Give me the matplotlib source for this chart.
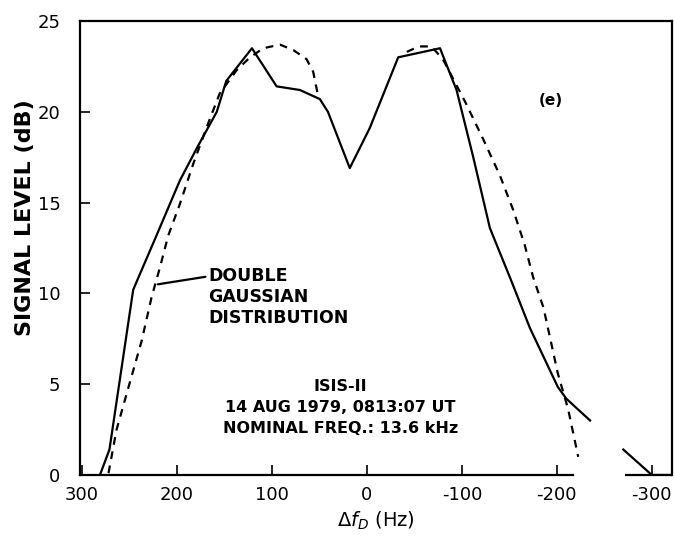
import numpy as np
import matplotlib
matplotlib.use('Agg')
from matplotlib import pyplot as plt

plt.rcParams['font.family'] = ['DejaVu Sans']
plt.rcParams['axes.unicode_minus'] = False

# measured spectrum (solid), gap where the trace is missing
meas_f = [281, 271, 246, 237, 223, 197, 179, 158, 148, 121, 95, 70.5, 49.5, 41, 18,
          -3, -33, -77, -94.4, -112, -129.5, -152, -171.6, -201, -210, -235, np.nan,
          -270, -300, -321]
meas_db = [0, 1.4, 10.2, 11.3, 13.0, 16.2, 18.0, 20.0, 21.7, 23.5, 21.4, 21.2, 20.7, 20.0, 16.9,
           19.1, 23.0, 23.5, 21.2, 17.5, 13.6, 10.7, 8.1, 4.85, 4.2, 3.0, np.nan,
           1.4, 0, 0]

# double gaussian fit (dashed), two visible pieces
fit_f1 = [272, 263.5, 249.5, 237, 226.6, 218, 209, 197, 183, 169, 155, 137, 123, 109,
          91.5, 77.5, 63.5, 56.5, 53, 51]
fit_db1 = [0.1, 2.5, 5.1, 7.4, 9.8, 11.4, 13.2, 14.9, 17.1, 19.1, 21.0, 22.3, 23.0, 23.5,
           23.7, 23.4, 22.9, 22.2, 21.3, 20.8]
fit_f2 = [-42, -55, -68, -80, -90, -103, -122.4, -140, -154, -166, -175, -186, -201,
          -212, -222.5]
fit_db2 = [23.3, 23.6, 23.6, 22.9, 21.9, 20.6, 18.5, 16.5, 14.6, 12.7, 10.9, 9.2, 5.6,
           3.6, 1.0]

xticks = [300, 200, 100, 0, -100, -200, -300]
yticks = [0, 5, 10, 15, 20, 25]

fig = plt.figure(figsize=(6.74, 5.37), dpi=100)
ax = fig.add_axes([0.1187, 0.1155, 0.878, 0.8454])

ax.plot(meas_f, meas_db, color='black', lw=1.6)
ax.plot(fit_f1, fit_db1, color='black', lw=1.6, linestyle=(0, (3.5, 3)))
ax.plot(fit_f2, fit_db2, color='black', lw=1.6, linestyle=(0, (3.5, 3)))

ax.set_xlim(302, -321)
ax.set_ylim(0, 25)
ax.set_xticks(xticks)
ax.set_yticks(yticks)
ax.tick_params(direction='in', length=7, width=1.2, labelsize=13)
ax.tick_params(axis='x', pad=8)
ax.tick_params(axis='y', pad=14)
for s in ax.spines.values():
    s.set_linewidth(1.6)

# scanned axis line has a break on the right
ax.spines['bottom'].set_bounds(302, -217)
ax.hlines(0, -272, -321, color='black', lw=1.6, clip_on=False)

fig.text(25 / 674, 1 - 218 / 537, 'SIGNAL LEVEL (dB)', fontsize=16, fontweight='bold',
         rotation=90, ha='center', va='center')
ax.set_xlabel(r'$\Delta f_D$ (Hz)', fontsize=14, labelpad=4)

ax.text(-194, 20.6, '(e)', fontsize=11, fontweight='bold', ha='center', va='center')
ax.annotate('DOUBLE\nGAUSSIAN\nDISTRIBUTION', xy=(220, 10.5), xytext=(167, 9.8),
            fontsize=12.5, fontweight='bold', ha='left', va='center', linespacing=1.18,
            arrowprops=dict(arrowstyle='-', color='black', lw=1.6,
                            shrinkA=0, shrinkB=0, relpos=(0, 0.85)))
ax.text(28, 3.7, 'ISIS-II\n14 AUG 1979, 0813:07 UT\nNOMINAL FREQ.: 13.6 kHz',
        fontsize=11.5, fontweight='bold', ha='center', va='center', linespacing=1.5)

fig.savefig('out.png', dpi=100)
